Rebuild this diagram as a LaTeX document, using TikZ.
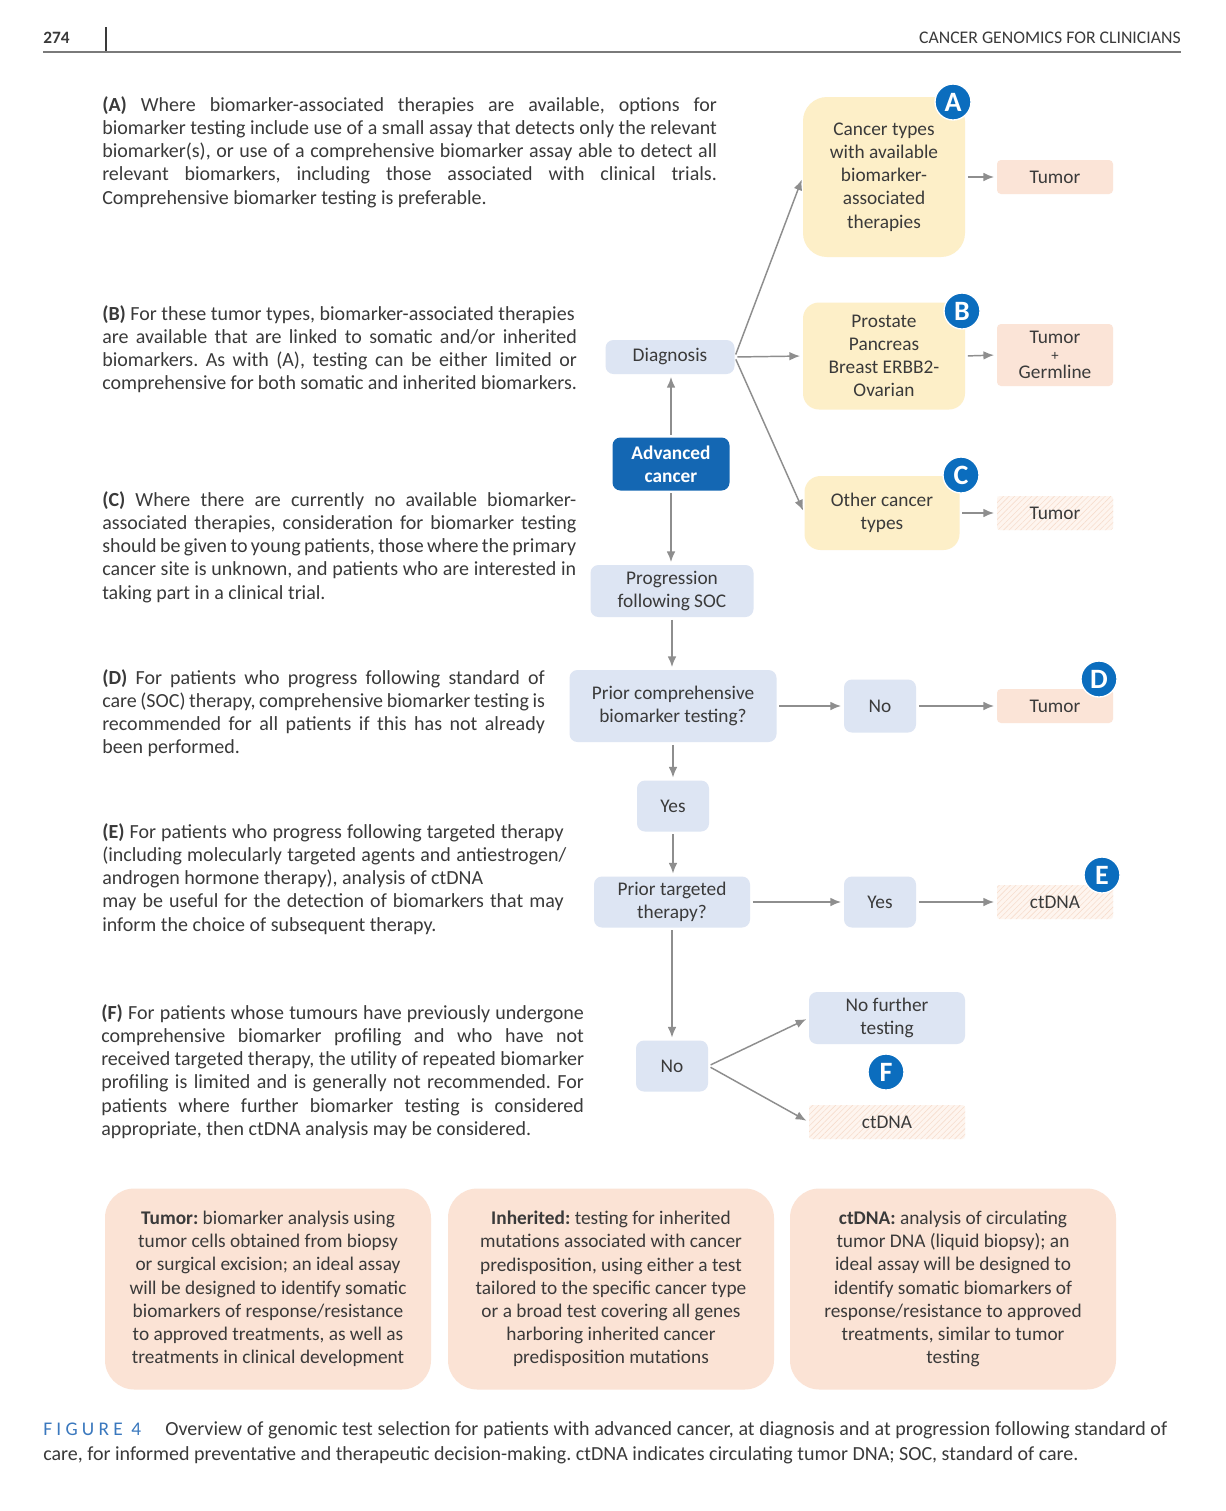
\documentclass[tikz,border=0pt]{standalone}
\usepackage{fontspec}
\setmainfont{Carlito}
\usetikzlibrary{arrows.meta,patterns.meta}
\definecolor{txt}{HTML}{3A3A3A}
\definecolor{ybox}{HTML}{FDEFC8}
\definecolor{peach}{HTML}{FBE4D7}
\definecolor{peachb}{HTML}{FBE3D5}
\definecolor{lblue}{HTML}{DDE5F3}
\definecolor{dblue}{HTML}{1467B3}
\definecolor{badgec}{HTML}{0B6DBE}
\definecolor{arrc}{HTML}{8E8E8E}
\definecolor{hfill}{HTML}{FEF5EF}
\definecolor{hline}{HTML}{F7DDCD}
\definecolor{figblue}{HTML}{3A78BE}
\definecolor{rulec}{HTML}{7A7A7A}
\newcommand\bodyf{\fontsize{15}{17.44}\selectfont}
\newcommand\flowf{\fontsize{14.5}{17.4}\selectfont}
\newcommand\jl[2]{\makebox[#1][s]{#2}}
\frenchspacing
\begin{document}
\begin{tikzpicture}[x=0.75pt,y=-0.75pt,
  every node/.style={text=txt},
  sz/.style 2 args={minimum width=#1*0.75pt, minimum height=#2*0.75pt},
  flow/.style={rectangle, rounded corners=6pt, fill=lblue, align=center, inner sep=0pt, font=\flowf},
  ycat/.style={rectangle, rounded corners=12pt, fill=ybox, align=center, inner sep=0pt, font=\flowf},
  tbox/.style={rectangle, rounded corners=3pt, fill=peach, align=center, inner sep=0pt, font=\flowf},
  hbox/.style={rectangle, rounded corners=2pt, preaction={fill=hfill}, pattern={Lines[angle=45,distance=3pt,line width=0.45pt]}, pattern color=hline, align=center, inner sep=0pt, font=\flowf},
  badge/.style={circle, fill=badgec, draw=white, line width=1pt, text=white, inner sep=0pt, minimum size=36*0.75pt, font=\bfseries\fontsize{21}{21}\selectfont},
  legend/.style={rectangle, rounded corners=22pt, fill=peachb, align=center, inner sep=0pt, font=\flowf, sz={326}{201}},
  arr/.style={draw=arrc, line width=1.1pt, -{Latex[length=8pt,width=6.5pt]}, shorten >=2pt, shorten <=2pt},
  para/.style={anchor=base west, inner sep=0pt, font=\bodyf}
]
\fill[white] (0,0) rectangle (1226,1511);
\useasboundingbox (0,0) rectangle (1226,1511);

% header
\node[anchor=base west, inner sep=0pt, font=\bfseries\fontsize{13}{13}\selectfont] (pg) at (43,43) {274};
\node[anchor=base east, inner sep=0pt, font=\fontsize{13.3}{13.3}\selectfont] (hd) at (1181,43) {CANCER GENOMICS FOR CLINICIANS};
\coordinate (vt) at (106,27);
\coordinate (vb) at (106,52);
\draw[line width=0.8pt, color=txt] (vt) -- (vb);
\coordinate (rl) at (43,51.5);
\coordinate (rr) at (1181,51.5);
\draw[line width=1.5pt, color=rulec] (rl) -- (rr);

% paragraphs
\node[para] (pA) at (102,111) {\parbox[t]{461pt}{%
\jl{461pt}{\textbf{(A)} Where biomarker-associated therapies are available, options for}\\
\jl{461pt}{biomarker testing include use of a small assay that detects only the relevant}\\
\jl{461pt}{biomarker(s), or use of a comprehensive biomarker assay able to detect all}\\
\jl{461pt}{relevant biomarkers, including those associated with clinical trials.}\\
Comprehensive biomarker testing is preferable.}};

\node[para] (pB) at (102,320) {\parbox[t]{356pt}{%
\textbf{(B)} For these tumor types, biomarker-associated therapies\\
\jl{356pt}{are available that are linked to somatic and/or inherited}\\
\jl{356pt}{biomarkers. As with (A), testing can be either limited or}\\
comprehensive for both somatic and inherited biomarkers.}};

\node[para] (pC) at (102,506) {\parbox[t]{355.5pt}{%
\jl{355.5pt}{\textbf{(C)} Where there are currently no available biomarker-}\\
\jl{355.5pt}{associated therapies, consideration for biomarker testing}\\
\jl{355.5pt}{should be given to young patients, those where the primary}\\
\jl{355.5pt}{cancer site is unknown, and patients who are interested in}\\
taking part in a clinical trial.}};

\node[para] (pD) at (102,684) {\parbox[t]{332pt}{%
\jl{332pt}{\textbf{(D)} For patients who progress following standard of}\\
\jl{332pt}{care (SOC) therapy, comprehensive biomarker testing is}\\
\jl{332pt}{recommended for all patients if this has not already}\\
been performed.}};

\node[para] (pE) at (102,838) {\parbox[t]{346pt}{%
\jl{346pt}{\textbf{(E)} For patients who progress following targeted therapy}\\
\jl{348pt}{(including molecularly targeted agents and antiestrogen/}\\
androgen hormone therapy), analysis of ctDNA\\
\jl{346pt}{may be useful for the detection of biomarkers that may}\\
inform the choice of subsequent therapy.}};

\node[para] (pF) at (101,1019) {\parbox[t]{362pt}{%
\jl{362pt}{\textbf{(F)} For patients whose tumours have previously undergone}\\
\jl{362pt}{comprehensive biomarker profiling and who have not}\\
\jl{362pt}{received targeted therapy, the utility of repeated biomarker}\\
\jl{362pt}{profiling is limited and is generally not recommended. For}\\
\jl{362pt}{patients where further biomarker testing is considered}\\
appropriate, then ctDNA analysis may be considered.}};

% flow nodes
\node[ycat, rounded corners=18pt, sz={162}{160}] (boxA) at (884,177) {Cancer types\\with available\\biomarker-\\associated\\therapies};
\node[ycat, sz={162}{107}] (boxB) at (884,356) {Prostate\\Pancreas\\Breast ERBB2-\\Ovarian};
\node[ycat, sz={155}{74}] (boxC) at (882,513) {Other cancer\\types};
\node[tbox, sz={116}{34}] (tA) at (1055,177) {Tumor};
\node[tbox, sz={116}{62}] (tB) at (1055,355) {Tumor\\[-5pt]{\fontsize{11}{11}\selectfont+}\\[-4pt]Germline};
\node[hbox, sz={116}{34}] (tC) at (1055,513) {Tumor};
\node[flow, sz={129}{34}] (diag) at (670,357) {Diagnosis};
\node[flow, fill=dblue, text=white, font=\bfseries\flowf, sz={117}{53}] (adv) at (671,464) {Advanced\\cancer};
\node[flow, sz={163}{52}] (prog) at (672,591) {Progression\\following SOC};
\node[flow, sz={207}{72}] (pcomp) at (673,706) {Prior comprehensive\\biomarker testing?};
\node[flow, sz={72}{53}] (noD) at (880,706) {No};
\node[tbox, sz={116}{34}] (tD) at (1055,706) {Tumor};
\node[flow, sz={72}{51}] (yes) at (673,806) {Yes};
\node[flow, sz={156}{51}] (ptarg) at (672,902) {Prior targeted\\therapy?};
\node[flow, sz={72}{51}] (yesE) at (880,902) {Yes};
\node[hbox, sz={116}{34}] (cE) at (1055,902) {ctDNA};
\node[flow, sz={72}{51}] (noF) at (672,1066) {No};
\node[flow, sz={156}{52}] (nft) at (887,1018) {No further\\testing};
\node[hbox, sz={156}{34}] (cF) at (887,1122) {ctDNA};

% badges
\node[badge] (bA) at (953,102) {A};
\node[badge] (bB) at (962,311) {B};
\node[badge] (bC) at (961,475) {C};
\node[badge] (bD) at (1099,679) {D};
\node[badge] (bE) at (1102,875) {E};
\node[badge] (bF) at (886,1072) {F};

% arrows
\draw[arr] (adv.north) -- (adv.north |- diag.south);
\draw[arr] (adv.south) -- (adv.south |- prog.north);
\draw[arr] (diag.east) -- (boxA.west);
\draw[arr] (diag.east) -- (boxB.west);
\draw[arr] (diag.east) -- (boxC.west);
\draw[arr] (boxA.east) -- (tA.west);
\draw[arr] (boxB.east) -- (tB.west);
\draw[arr] (boxC.east) -- (tC.west);
\draw[arr] (prog.south) -- (prog.south |- pcomp.north);
\draw[arr] (pcomp.east) -- (noD.west);
\draw[arr] (noD.east) -- (tD.west);
\draw[arr] (pcomp.south) -- (pcomp.south |- yes.north);
\draw[arr] (yes.south) -- (yes.south |- ptarg.north);
\draw[arr] (ptarg.east) -- (yesE.west);
\draw[arr] (yesE.east) -- (cE.west);
\draw[arr] (ptarg.south) -- (ptarg.south |- noF.north);
\draw[arr] (noF.east) -- (nft.west);
\draw[arr] (noF.east) -- (cF.west);

% legend boxes
\node[legend] (lg1) at (268,1289) {\textbf{Tumor:} biomarker analysis using\\tumor cells obtained from biopsy\\or surgical excision; an ideal assay\\will be designed to identify somatic\\biomarkers of response/resistance\\to approved treatments, as well as\\treatments in clinical development};
\node[legend] (lg2) at (611,1289) {\textbf{Inherited:} testing for inherited\\mutations associated with cancer\\predisposition, using either a test\\tailored to the specific cancer type\\or a broad test covering all genes\\harboring inherited cancer\\predisposition mutations};
\node[legend] (lg3) at (953,1289) {\textbf{ctDNA:} analysis of circulating\\tumor DNA (liquid biopsy); an\\ideal assay will be designed to\\identify somatic biomarkers of\\response/resistance to approved\\treatments, similar to tumor\\testing};

% caption
\node[anchor=base west, inner sep=0pt, text=figblue, font=\fontsize{14.5}{14.5}\selectfont\addfontfeatures{LetterSpace=22}] (fig) at (43,1435) {FIGURE 4};
\node[anchor=base west, inner sep=0pt, font=\fontsize{15}{15}\selectfont] (cap1) at (165,1435) {\jl{751.5pt}{Overview of genomic test selection for patients with advanced cancer, at diagnosis and at progression following standard of}};
\node[anchor=base west, inner sep=0pt, font=\fontsize{15}{15}\selectfont] (cap2) at (43,1460) {care, for informed preventative and therapeutic decision-making. ctDNA indicates circulating tumor DNA; SOC, standard of care.};
\end{tikzpicture}
\end{document}
